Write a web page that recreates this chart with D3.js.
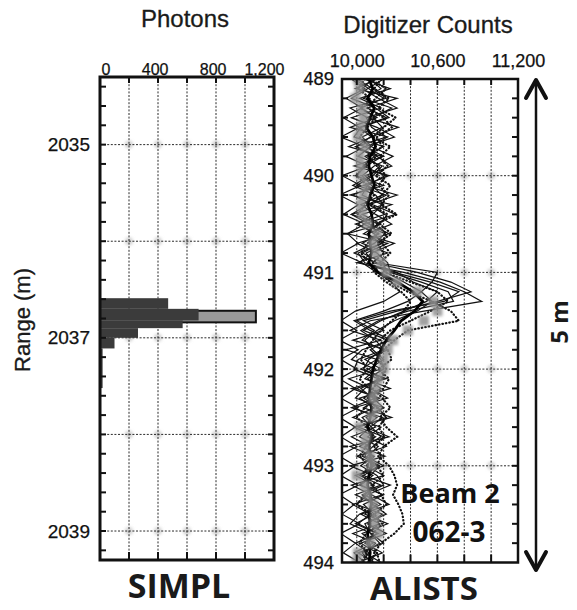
<!DOCTYPE html>
<html>
<head>
<meta charset="utf-8">
<script src="https://cdn.jsdelivr.net/npm/d3@7/dist/d3.min.js"></script>
<style>
  html, body { margin: 0; padding: 0; background: #fff; }
  svg { display: block; }
</style>
</head>
<body>
<svg id="chart" width="577" height="610"></svg>
<script>
// ---------------- SIMPL: photon histogram vs. range ----------------
const simplBinStart = [2036.59, 2036.70, 2036.82, 2036.90, 2037.00, 2037.11];
const simplBinEnd   = [2036.70, 2036.82, 2036.90, 2037.00, 2037.11, 2037.52];
const simplPhotons  = [470, 680, 570, 262, 100, 18];
// narrow high-count return drawn as an outlined bar
const simplPeakStart = 2036.72;
const simplPeakEnd = 2036.84;
const simplPeakPhotons = 1075;

const simplXTickLabels = [0, 400, 800, 1200];
const simplXGrid = [200, 400, 600, 800, 1000];
const simplYTicks = [2035, 2036, 2037, 2038, 2039];
const simplYTickLabels = [2035, 2037, 2039];

// ---------------- ALISTS: digitizer counts vs. range ----------------
const alistsRange = [
  489.0, 489.1, 489.2, 489.3, 489.4, 489.5, 489.6, 489.7, 489.8, 489.9,
  490.0, 490.1, 490.2, 490.3, 490.4, 490.5, 490.6, 490.7, 490.8, 490.9,
  491.0, 491.1, 491.2, 491.3, 491.4, 491.5, 491.6, 491.7, 491.8, 491.9,
  492.0, 492.1, 492.2, 492.3, 492.4, 492.5, 492.6, 492.7, 492.8, 492.9,
  493.0, 493.1, 493.2, 493.3, 493.4, 493.5, 493.6, 493.7, 493.8, 493.9,
  494.0
];
// waveform average (heavy line)
const alistsMean = [
  10090,10120,10080,10130,10100,10070,10120,10140,10100,10090,
  10110,10130,10100,10080,10110,10120,10090,10100,10110,10090,
  10160,10300,10420,10490,10430,10330,10280,10220,10180,10150,
  10120,10110,10100,10090,10110,10100,10080,10110,10090,10100,
  10110,10090,10080,10100,10110,10090,10100,10080,10090,10100,
  10090
];
// individual shots (thin solid lines)
const alistsShot1 = [
  10050,10250,10020,10180,9960,10150,10280,10060,10200,9980,
  10240,10050,10300,10090,10210,9990,10160,10040,10230,10000,
  10350,10620,10800,10930,10500,10100,9950,10180,9920,10150,
  10030,10220,9960,10170,10050,10260,9980,10140,10020,10210,
  9950,10120,10030,10190,9970,10100,10010,10160,9990,10090,
  10040
];
const alistsShot2 = [
  10150,9990,10300,10080,10220,10020,10110,9940,10190,10070,
  9990,10200,9950,10260,10040,10180,9930,10230,10070,10120,
  10450,10700,10850,10600,10300,10050,10200,9970,10230,10060,
  10180,9940,10100,10230,9980,10150,10060,10240,9950,10130,
  10070,10200,9960,10110,10240,10030,10170,9970,10140,10060,
  10180
];
const alistsShot3 = [
  10000,10120,10220,9950,10080,10310,10100,10000,10150,10260,
  10060,10150,9970,10120,10290,10050,10210,10130,9980,10150,
  10600,10560,10480,10380,10200,9980,10100,10260,10040,9960,
  10140,10060,10250,10020,10130,9970,10180,10080,10220,10000,
  10160,10050,10250,10080,10000,10190,10080,10220,10030,10150,
  10080
];
const alistsShot4 = [
  10200,10080,9960,10140,10240,10030,9980,10200,10060,10170,
  10100,9970,10140,10200,9960,10090,10240,10000,10150,10230,
  10250,10480,10680,10720,10380,10160,10030,10140,10200,10010,
  9980,10160,10060,9990,10200,10070,10140,9960,10100,10060,
  10200,9990,10130,10060,10180,10020,9950,10110,10200,10010,
  10130
];
const alistsShot5 = [
  10100,10180,10050,10260,10120,10190,10040,10110,10270,10130,
  10040,10110,10190,10030,10140,10260,10080,10180,10040,10200,
  10220,10350,10480,10560,10450,10280,10150,10060,10120,10200,
  10090,10170,10030,10120,10200,10040,10110,10180,10060,10120,
  10030,10150,10200,10040,10120,10220,10060,10100,10170,10040,
  10110
];
const alistsShot6 = [
  9960,10060,9920,10040,9900,10020,9880,10060,9920,10080,
  9890,10030,9870,10010,9900,10060,9930,10010,9880,10040,
  10150,10260,10320,10200,9990,9880,10000,9870,10010,9880,
  10000,9870,9990,9880,10010,9870,9990,9880,10000,9870,
  9990,9880,10010,9870,9980,9890,10020,9880,9990,9900,
  10020
];
const alistsShot7 = [
  9980,10090,10200,10030,10150,9950,10230,10100,10010,10190,
  10120,10000,10220,10080,9960,10170,10050,10280,10110,10020,
  10280,10550,10760,10650,10250,10000,10130,10040,10190,10090,
  10050,10200,10000,10140,9960,10190,10100,10020,10160,10080,
  10130,10020,10180,9990,10150,10060,10230,10040,10120,9980,
  10060
];
const alistsShot8 = [
  10120,10040,10160,10300,10070,10110,10220,9990,10130,10050,
  10210,10080,10040,10190,10120,10010,10130,10190,10010,10060,
  10300,10420,10600,10520,10350,10180,10050,10230,10100,10180,
  10200,10080,10180,10050,10160,10220,10010,10200,10120,10040,
  10170,10100,10020,10200,10050,10130,9990,10150,10060,10190,
  10010
];
// dotted shots
const alistsDotted1 = [
  10180,10130,10240,10160,10290,10200,10120,10250,10170,10230,
  10140,10250,10190,10100,10230,10170,10260,10150,10200,10120,
  10160,10250,10380,10560,10700,10760,10380,10280,10200,10150,
  10220,10180,10120,10190,10250,10170,10220,10300,10200,10160,
  10240,10280,10300,10270,10310,10340,10350,10280,10180,10130,
  10110
];
const alistsDotted2 = [
  10060,10010,10100,10030,10140,10080,10020,10090,10150,10050,
  10000,10080,10130,10060,10010,10100,10160,10080,10030,10090,
  10130,10220,10330,10400,10350,10260,10180,10120,10070,10030,
  10080,10020,10090,10150,10060,10000,10080,10130,10070,10020,
  10090,10040,10120,10060,10000,10110,10170,10070,10020,10080,
  10030
];
const alistsDotted3 = [
  10100,10220,10140,10080,10200,10260,10150,10190,10080,10150,
  10220,10160,10240,10180,10300,10140,10220,10190,10250,10170,
  10210,10400,10600,10680,10550,10400,10250,10170,10230,10260,
  10160,10240,10200,10080,10150,10220,10160,10210,10130,10180,
  10150,10200,10110,10180,10220,10130,10190,10120,10080,10150,
  10170
];
// reference waveform (grey markers)
const alistsMarkers = [
  10010,10020,9990,10040,10050,10030,10010,10060,10020,10030,
  10040,10070,10050,10030,10040,10080,10150,10120,10140,10180,
  10220,10300,10450,10570,10600,10500,10380,10270,10230,10200,
  10200,10160,10140,10120,10150,10110,10020,10070,10060,10100,
  10110,10000,10060,10080,10120,10140,10130,10160,10100,10010,
  10000
];

const alistsXTickLabels = [10000, 10600, 11200];
const alistsXGrid = [10000, 10200, 10400, 10600, 10800, 11000];
const alistsYTicks = [489, 490, 491, 492, 493, 494];
const alistsYGrid = [490, 491, 492, 493];

// ---------------- layout ----------------
const svg = d3.select("#chart");
const sansFont = "'Liberation Sans', Arial, sans-serif";
const boldFont = "'Open Sans', 'Noto Sans', sans-serif";

const simplX = d3.scaleLinear().domain([0, 1200]).range([100, 274]);
const simplY = d3.scaleLinear().domain([2034.3, 2039.3]).range([77, 560]);
const alistsX = d3.scaleLinear().domain([9890, 11200]).range([342, 518]);
const alistsY = d3.scaleLinear().domain([489, 494]).range([79, 562.5]);

const defs = svg.append("defs");
defs.append("filter").attr("id", "soft").attr("x", "-20%").attr("y", "-20%")
  .attr("width", "140%").attr("height", "140%")
  .append("feGaussianBlur").attr("stdDeviation", 0.7);
defs.append("filter").attr("id", "blob").attr("x", "-50%").attr("y", "-50%")
  .attr("width", "200%").attr("height", "200%")
  .append("feGaussianBlur").attr("stdDeviation", 1.4);

function clip(id, x, y) {
  defs.append("clipPath").attr("id", id).append("rect")
    .attr("x", x.range()[0]).attr("y", y.range()[0])
    .attr("width", x.range()[1] - x.range()[0])
    .attr("height", y.range()[1] - y.range()[0]);
}
clip("clipSimpl", simplX, simplY);
clip("clipAlists", alistsX, alistsY);

// grid lines with soft grey blobs at their crossings
function panelGrid(g, x, y, xGrid, yGrid) {
  const [x0, x1] = x.range(), [y0, y1] = y.range();
  const blobs = [];
  xGrid.forEach(v => yGrid.forEach(w => blobs.push([v, w])));
  g.append("g").selectAll("circle").data(blobs).join("circle")
    .attr("cx", d => x(d[0])).attr("cy", d => y(d[1])).attr("r", 4)
    .attr("fill", "#d4d4d4").attr("filter", "url(#blob)");
  g.append("g").selectAll("line").data(xGrid).join("line")
    .attr("x1", d => x(d)).attr("x2", d => x(d)).attr("y1", y0).attr("y2", y1)
    .attr("stroke", "#2a2a2a").attr("stroke-width", 1).attr("stroke-dasharray", "2,1.6");
  g.append("g").selectAll("line").data(yGrid).join("line")
    .attr("y1", d => y(d)).attr("y2", d => y(d)).attr("x1", x0).attr("x2", x1)
    .attr("stroke", "#2a2a2a").attr("stroke-width", 1).attr("stroke-dasharray", "2,1.6");
}

// frame with inward ticks on all four sides
function panelFrame(g, x, y, xGrid, minorY, frameWidth) {
  const [x0, x1] = x.range(), [y0, y1] = y.range();
  const ticks = g.append("g").attr("stroke", "#111").attr("stroke-width", 2);
  ticks.selectAll(".tt").data(xGrid).join("line").attr("class", "tt")
    .attr("x1", d => x(d)).attr("x2", d => x(d)).attr("y1", y0).attr("y2", y0 + 6);
  ticks.selectAll(".tb").data(xGrid).join("line").attr("class", "tb")
    .attr("x1", d => x(d)).attr("x2", d => x(d)).attr("y1", y1).attr("y2", y1 - 8);
  ticks.selectAll(".tl").data(minorY).join("line").attr("class", "tl")
    .attr("y1", d => y(d)).attr("y2", d => y(d)).attr("x1", x0).attr("x2", x0 + 6);
  ticks.selectAll(".tr").data(minorY).join("line").attr("class", "tr")
    .attr("y1", d => y(d)).attr("y2", d => y(d)).attr("x1", x1).attr("x2", x1 - 6);
  g.append("rect").attr("x", x0).attr("y", y0).attr("width", x1 - x0).attr("height", y1 - y0)
    .attr("fill", "none").attr("stroke", "#111").attr("stroke-width", frameWidth);
}

function minorSteps(lo, hi, step) {
  const out = [];
  for (let v = Math.ceil(lo / step - 1e-9) * step; v <= hi + 1e-9; v += step) out.push(+v.toFixed(3));
  return out;
}

function styleAxisText(sel, size) {
  sel.selectAll("text").attr("font-family", sansFont).attr("font-size", size)
    .attr("fill", "#111").attr("stroke", "#111").attr("stroke-width", 0.25);
  sel.select(".domain").remove();
}

// ---------------- SIMPL panel ----------------
const gS = svg.append("g");
panelGrid(gS, simplX, simplY, simplXGrid, simplYTicks);

const gHist = gS.append("g").attr("clip-path", "url(#clipSimpl)");
gHist.append("rect")
  .attr("x", simplX(0)).attr("y", simplY(simplPeakStart))
  .attr("width", simplX(simplPeakPhotons) - simplX(0))
  .attr("height", simplY(simplPeakEnd) - simplY(simplPeakStart))
  .attr("fill", "#9a9a9a").attr("stroke", "#111").attr("stroke-width", 2);
gHist.append("g").attr("filter", "url(#soft)")
  .selectAll("rect").data(simplPhotons).join("rect")
  .attr("x", simplX(0))
  .attr("y", (d, i) => simplY(simplBinStart[i]))
  .attr("width", d => simplX(d) - simplX(0))
  .attr("height", (d, i) => simplY(simplBinEnd[i]) - simplY(simplBinStart[i]))
  .attr("fill", "#3a3a3a");

panelFrame(gS, simplX, simplY, simplXGrid, minorSteps(2034.4, 2039.2, 0.2), 3);

// photon labels sit right-aligned just past their tick
gS.append("g").attr("transform", `translate(0,${simplY.range()[0] - 2})`)
  .call(d3.axisTop(simplX).tickValues(simplXTickLabels).tickSize(0).tickPadding(0)
    .tickFormat(d3.format(",")))
  .call(s => styleAxisText(s, 16))
  .selectAll("text").attr("text-anchor", "end").attr("dx", 10);

gS.append("g").attr("transform", `translate(${simplX.range()[0] - 10},0)`)
  .call(d3.axisLeft(simplY).tickValues(simplYTickLabels).tickSize(0).tickPadding(0)
    .tickFormat(d3.format("d")))
  .call(s => styleAxisText(s, 19));

// ---------------- ALISTS panel ----------------
const gA = svg.append("g");
panelGrid(gA, alistsX, alistsY, alistsXGrid, alistsYGrid);

const gLines = gA.append("g").attr("clip-path", "url(#clipAlists)");
const toPts = vals => vals.map((v, i) => [v, alistsRange[i]]);
const line = d3.line().x(d => alistsX(d[0])).y(d => alistsY(d[1]));

const shots = [alistsShot1, alistsShot2, alistsShot3, alistsShot4,
               alistsShot5, alistsShot6, alistsShot7, alistsShot8];
gLines.append("g").selectAll("path").data(shots).join("path")
  .attr("d", d => line(toPts(d)))
  .attr("fill", "none").attr("stroke", "#111").attr("stroke-width", 1.2)
  .attr("stroke-linejoin", "miter");

gLines.append("g").selectAll("path").data([alistsDotted1, alistsDotted2, alistsDotted3]).join("path")
  .attr("d", d => line(toPts(d)))
  .attr("fill", "none").attr("stroke", "#111").attr("stroke-width", 2.2)
  .attr("stroke-linecap", "round").attr("stroke-dasharray", "0.5,3");

gLines.append("path").attr("d", line(toPts(alistsMean)))
  .attr("fill", "none").attr("stroke", "#000").attr("stroke-width", 2.8);

gLines.append("g").attr("filter", "url(#blob)")
  .selectAll("rect").data(toPts(alistsMarkers)).join("rect")
  .attr("x", d => alistsX(d[0]) - 5).attr("y", d => alistsY(d[1]) - 5)
  .attr("width", 10).attr("height", 10)
  .attr("fill", "#909090").attr("opacity", 0.85);

panelFrame(gA, alistsX, alistsY, alistsXGrid, minorSteps(489.2, 493.8, 0.2), 2.5);

gA.append("g").attr("transform", `translate(0,${alistsY.range()[0] - 12})`)
  .call(d3.axisTop(alistsX).tickValues(alistsXTickLabels).tickSize(0).tickPadding(0)
    .tickFormat(d3.format(",")))
  .call(s => styleAxisText(s, 18));

gA.append("g").attr("transform", `translate(${alistsX.range()[0] - 8},0)`)
  .call(d3.axisLeft(alistsY).tickValues(alistsYTicks).tickSize(0).tickPadding(0)
    .tickFormat(d3.format("d")))
  .call(s => styleAxisText(s, 18.5));

// ---------------- titles and annotations ----------------
function txt(x, y, s, size, font, weight, anchor) {
  return svg.append("text").attr("x", x).attr("y", y).text(s)
    .attr("font-family", font).attr("font-size", size).attr("font-weight", weight)
    .attr("text-anchor", anchor || "middle").attr("fill", "#1a1a1a");
}
txt(185, 27, "Photons", 24, sansFont, 400).attr("stroke", "#1a1a1a").attr("stroke-width", 0.3);
txt(428, 33, "Digitizer Counts", 24, sansFont, 400).attr("stroke", "#1a1a1a").attr("stroke-width", 0.3);
svg.append("text").attr("transform", "translate(30,320) rotate(-90)")
  .attr("text-anchor", "middle").attr("font-family", sansFont).attr("font-size", 22)
  .attr("fill", "#1a1a1a").attr("stroke", "#1a1a1a").attr("stroke-width", 0.3)
  .text("Range (m)");

txt(179, 598, "SIMPL", 34, boldFont, 700);
txt(424, 600, "ALISTS", 33, boldFont, 700);

// two-line beam / shot tag
txt(450, 503, "Beam 2", 27, boldFont, 700).attr("fill", "#111");
txt(449, 542, "062-3", 28, boldFont, 700).attr("fill", "#111");

// 5 m span arrow
const arrow = svg.append("g").attr("stroke", "#111").attr("fill", "none")
  .attr("stroke-linecap", "round").attr("stroke-linejoin", "round");
arrow.append("line").attr("x1", 536).attr("x2", 536).attr("y1", 80).attr("y2", 570)
  .attr("stroke-width", 2.5);
arrow.append("path").attr("d", "M526,98 L536,80 L546,98").attr("stroke-width", 4);
arrow.append("path").attr("d", "M526,552 L536,570 L546,552").attr("stroke-width", 4);
svg.append("text").attr("transform", "translate(568,322) rotate(-90)")
  .attr("text-anchor", "middle").attr("font-family", boldFont).attr("font-weight", 700)
  .attr("font-size", 24).attr("fill", "#1a1a1a").text("5 m");
</script>
</body>
</html>
